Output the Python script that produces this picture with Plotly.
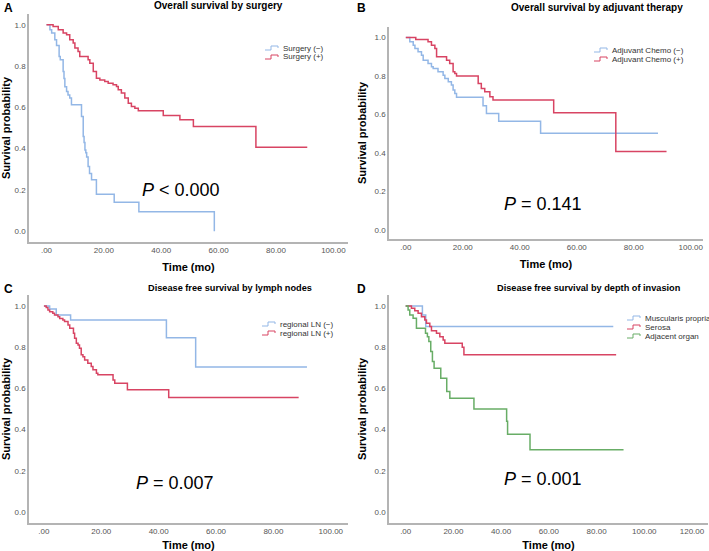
import plotly.graph_objects as go

# ---- data (time in months, survival probability) ----
# A: overall survival by surgery
surg_neg_t = [0, 1.2, 1.8, 2.9, 3.5, 4.4, 4.8, 5.8, 6.1, 6.4, 7.0, 7.5, 8.1, 8.7, 12.2, 12.8, 13.1,
              13.4, 13.7, 14.0, 14.5, 15.0, 15.7, 17.4, 23.6, 32.2, 58.5]
surg_neg_s = [1.0, 0.976, 0.96, 0.927, 0.90, 0.846, 0.83, 0.774, 0.74, 0.70, 0.677, 0.66, 0.645, 0.612,
              0.556, 0.459, 0.43, 0.394, 0.38, 0.36, 0.313, 0.28, 0.249, 0.179, 0.14, 0.095, 0.0]
surg_pos_t = [0, 2.3, 4.1, 5.8, 7.0, 8.1, 9.3, 9.9, 11.0, 11.6, 14.5, 15.1, 16.3, 17.4, 18.6, 20.3,
              21.5, 23.2, 24.4, 25.0, 26.1, 27.3, 28.5, 29.6, 30.8, 32.0, 40.7, 46.5, 51.2, 73.0, 90.9]
surg_pos_s = [1.0, 0.992, 0.976, 0.96, 0.952, 0.927, 0.911, 0.887, 0.871, 0.846, 0.83, 0.814, 0.774,
              0.741, 0.733, 0.725, 0.717, 0.709, 0.701, 0.685, 0.669, 0.645, 0.62, 0.604, 0.596, 0.583,
              0.56, 0.54, 0.507, 0.407, 0.407]

# B: overall survival by adjuvant therapy
chemo_neg_t = [0, 1.4, 2.6, 3.2, 4.3, 5.5, 6.1, 7.8, 9.0, 9.6, 11.3, 13.1, 13.7, 14.9, 16.0, 16.6,
               17.2, 17.8, 27.1, 28.3, 32.6, 47.3, 88.5]
chemo_neg_s = [1.0, 0.978, 0.96, 0.943, 0.926, 0.908, 0.882, 0.865, 0.848, 0.839, 0.822, 0.804, 0.787,
               0.77, 0.753, 0.727, 0.709, 0.689, 0.645, 0.605, 0.565, 0.502, 0.502]
chemo_pos_t = [0, 3.5, 7.8, 9.0, 10.2, 10.8, 14.3, 15.4, 16.6, 17.2, 17.8, 25.4, 26.5, 27.7, 29.5,
               30.6, 51.9, 73.7, 91.5]
chemo_pos_s = [1.0, 0.99, 0.978, 0.96, 0.943, 0.90, 0.882, 0.865, 0.822, 0.813, 0.80, 0.761, 0.735,
               0.718, 0.692, 0.675, 0.609, 0.407, 0.407]

# C: disease free survival by lymph nodes
ln_neg_t = [0, 2.0, 4.3, 9.3, 42.7, 52.9, 91.7]
ln_neg_s = [1.0, 0.985, 0.956, 0.932, 0.846, 0.704, 0.704]
ln_pos_t = [0, 0.8, 1.4, 2.0, 3.1, 3.7, 4.9, 5.5, 6.6, 7.2, 8.4, 9.0, 10.3, 10.7, 11.3, 11.9, 12.4,
            13.0, 13.6, 14.2, 15.3, 16.5, 17.1, 18.3, 18.8, 24.1, 24.7, 29.1, 43.5, 88.8]
ln_pos_s = [1.0, 0.992, 0.98, 0.972, 0.964, 0.956, 0.948, 0.939, 0.932, 0.924, 0.908, 0.892, 0.868,
            0.843, 0.819, 0.811, 0.795, 0.763, 0.754, 0.738, 0.722, 0.706, 0.69, 0.674, 0.666, 0.641,
            0.625, 0.593, 0.556, 0.556]

# D: disease free survival by depth of invasion
musc_t = [0, 7.0, 8.4, 87.0]
musc_s = [1.0, 0.956, 0.90, 0.90]
serosa_t = [0, 2.4, 3.8, 5.2, 6.6, 8.0, 8.7, 10.1, 10.8, 12.9, 14.3, 15.7, 16.4, 23.7, 24.4, 88.2]
serosa_s = [1.0, 0.989, 0.976, 0.964, 0.948, 0.932, 0.916, 0.90, 0.879, 0.868, 0.851, 0.835, 0.819,
            0.80, 0.763, 0.763]
adj_t = [0, 1.0, 1.7, 3.1, 4.5, 8.3, 9.1, 9.7, 10.5, 11.2, 11.9, 14.7, 17.2, 18.5, 28.6, 42.3, 42.7,
         52.1, 91.3]
adj_s = [1.0, 0.98, 0.956, 0.94, 0.892, 0.868, 0.851, 0.827, 0.779, 0.73, 0.698, 0.649, 0.585, 0.552,
         0.50, 0.44, 0.378, 0.302, 0.302]

x_ticks_100 = [0, 20, 40, 60, 80, 100]
x_labels_100 = ['.00', '20.00', '40.00', '60.00', '80.00', '100.00']
x_ticks_120 = [0, 20, 40, 60, 80, 100, 120]
x_labels_120 = ['.00', '20.00', '40.00', '60.00', '80.00', '100.00', '120.00']
y_ticks = [0, 0.2, 0.4, 0.6, 0.8, 1.0]

titles = ['Overall survival by surgery', 'Overall survival by adjuvant therapy',
          'Disease free survival by lymph nodes', 'Disease free survival by depth of invasion']
p_texts = ['<i>P</i> &lt; 0.000', '<i>P</i> = 0.141', '<i>P</i> = 0.007', '<i>P</i> = 0.001']
panel_tags = ['A', 'B', 'C', 'D']

BLUE = '#93b7e6'
RED = '#d84463'
GREEN = '#68ad66'
W, H = 709, 551
FONT = 'Liberation Sans, Arial, sans-serif'


def px(x):
    return x / W


def py(y):
    return 1 - y / H


# panel geometry in pixels: (left, right, top, bottom), x range, y range
panels = [
    dict(box=(29, 348, 14, 242), xr=[-6.1, 105.1], yr=[-0.052, 1.052], ticks=(x_ticks_100, x_labels_100)),
    dict(box=(389, 703, 27, 239), xr=[-5.9, 104.3], yr=[-0.048, 1.055], ticks=(x_ticks_100, x_labels_100)),
    dict(box=(29, 348, 295, 523), xr=[-5.2, 106.0], yr=[-0.053, 1.053], ticks=(x_ticks_100, x_labels_100)),
    dict(box=(389, 708, 295, 523), xr=[-7.0, 126.7], yr=[-0.053, 1.053], ticks=(x_ticks_120, x_labels_120)),
]

curves = [
    [('Surgery (\u2212)', surg_neg_t, surg_neg_s, BLUE), ('Surgery (+)', surg_pos_t, surg_pos_s, RED)],
    [('Adjuvant Chemo (\u2212)', chemo_neg_t, chemo_neg_s, BLUE),
     ('Adjuvant Chemo (+)', chemo_pos_t, chemo_pos_s, RED)],
    [('regional LN (\u2212)', ln_neg_t, ln_neg_s, BLUE), ('regional LN (+)', ln_pos_t, ln_pos_s, RED)],
    [('Muscularis propria', musc_t, musc_s, BLUE), ('Serosa', serosa_t, serosa_s, RED),
     ('Adjacent organ', adj_t, adj_s, GREEN)],
]

# pixel positions of title / tag / p text / legend per panel
title_pos = [(218, 5), (597, 8), (230, 288), (589, 288)]
title_size = [10, 10, 9.2, 9.2]
tag_pos = [(8, 8), (361, 8), (8, 289), (361, 289)]
p_pos = [(181, 190), (543, 204), (175, 483), (543, 479)]
legend_pos = [(265, 48), (594, 50), (262, 324), (627, 318)]

fig = go.Figure()
layout = dict(width=W, height=H, margin=dict(l=0, r=0, t=0, b=0),
              paper_bgcolor='white', plot_bgcolor='white', showlegend=False,
              font=dict(family=FONT, color='black'))
annotations = []
shapes = []

for i, (pan, crv) in enumerate(zip(panels, curves)):
    n = '' if i == 0 else str(i + 1)
    l, r, t, b = pan['box']
    layout['xaxis' + n] = dict(
        domain=[px(l), px(r)], range=pan['xr'], anchor='y' + n,
        tickvals=pan['ticks'][0], ticktext=pan['ticks'][1],
        showline=True, linecolor='#b4b4b4', linewidth=1.5, showgrid=False, zeroline=False,
        ticks='', tickfont=dict(size=8, color='#555555'),
        title=dict(text='<b>Time (mo)</b>', font=dict(size=11), standoff=9),
        automargin=False,
    )
    layout['yaxis' + n] = dict(
        domain=[py(b), py(t)], range=pan['yr'], anchor='x' + n,
        tickvals=y_ticks, tickformat='.1f',
        showline=True, linecolor='#b4b4b4', linewidth=1.5, showgrid=False, zeroline=False,
        ticks='', tickfont=dict(size=8, color='#555555'),
        title=dict(text='<b>Survival probability</b>', font=dict(size=11), standoff=6),
        automargin=False,
    )
    for name, tt, ss, col in crv:
        fig.add_trace(go.Scatter(x=tt, y=ss, mode='lines', name=name, line_shape='hv',
                                 line=dict(color=col, width=1.5),
                                 xaxis='x' + n, yaxis='y' + n, hoverinfo='skip'))

    tx, ty = title_pos[i]
    annotations.append(dict(text='<b>' + titles[i] + '</b>', x=px(tx), y=py(ty), xref='paper', yref='paper',
                            showarrow=False, xanchor='center', yanchor='middle',
                            font=dict(size=title_size[i])))
    gx, gy = tag_pos[i]
    annotations.append(dict(text='<b>' + panel_tags[i] + '</b>', x=px(gx), y=py(gy), xref='paper',
                            yref='paper', showarrow=False, xanchor='center', yanchor='middle',
                            font=dict(size=12)))
    ppx, ppy = p_pos[i]
    annotations.append(dict(text=p_texts[i], x=px(ppx), y=py(ppy), xref='paper', yref='paper',
                            showarrow=False, xanchor='center', yanchor='middle', font=dict(size=18)))

    # legend: little step glyph + label, SPSS style
    lx, ly = legend_pos[i]
    for k, (name, tt, ss, col) in enumerate(crv):
        yy = ly + 9 * k
        path = 'M {} {} L {} {} L {} {} L {} {} L {} {}'.format(
            px(lx), py(yy + 2), px(lx + 6), py(yy + 2), px(lx + 6), py(yy - 2),
            px(lx + 13), py(yy - 2), px(lx + 13), py(yy))
        shapes.append(dict(type='path', path=path, xref='paper', yref='paper',
                           line=dict(color=col, width=1)))
        annotations.append(dict(text=name, x=px(lx + 16), y=py(yy), xref='paper', yref='paper',
                                showarrow=False, xanchor='left', yanchor='middle',
                                font=dict(size=8, color='#333333')))

layout['annotations'] = annotations
layout['shapes'] = shapes
fig.update_layout(**layout)

# drop the default 8px page margin so the figure fills the window
fig.write_html("out.html", config={'displayModeBar': False},
               post_script="document.body.style.margin='0';")
